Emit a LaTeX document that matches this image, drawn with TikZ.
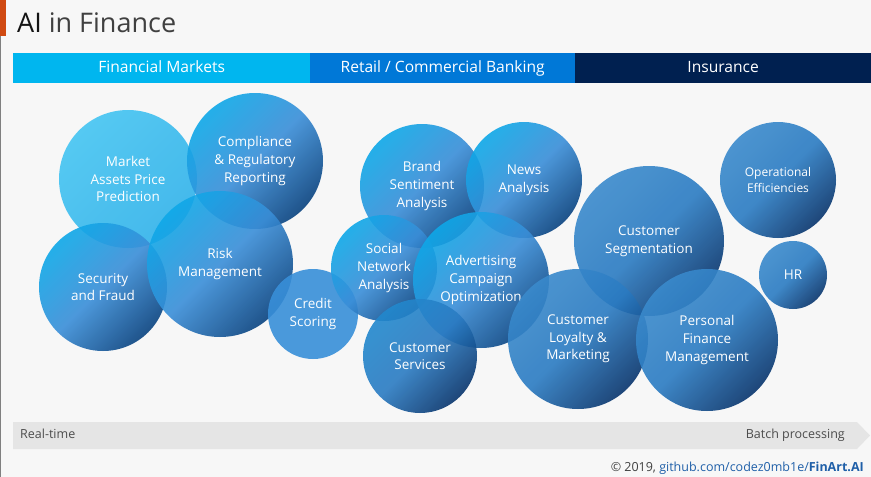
\documentclass[tikz,border=0pt]{standalone}
\usepackage{fontspec}
\setmainfont{Open Sans}
\definecolor{bg}{HTML}{F7F7F7}
\definecolor{fmk}{HTML}{00B6EF}
\definecolor{rcb}{HTML}{0078D7}
\definecolor{ins}{HTML}{002050}
\definecolor{orangebar}{HTML}{D04A12}
\definecolor{cyanA}{HTML}{0EA8E8}
\definecolor{midA}{HTML}{3A8ED8}
\definecolor{darkA}{HTML}{08427F}
\definecolor{midB}{HTML}{2A7BC2}
\definecolor{darkB}{HTML}{07346C}
\definecolor{lightB}{HTML}{3A8ACC}
\definecolor{mktTop}{HTML}{44C4F2}
\definecolor{mktBot}{HTML}{30B2EA}
\definecolor{linkblue}{HTML}{1F5FA8}
\tikzset{
  bub/.style={circle, draw=none, inner sep=0pt, text=white, align=center,
    font=\fontsize{13.5}{17.6}\selectfont, fill opacity=0.9, text opacity=1},
  gradA/.style={top color=cyanA, bottom color=darkA, middle color=midA, shading angle=45},
  gradB/.style={top color=lightB, bottom color=darkB, middle color=midB, shading angle=45},
  gradC/.style={top color=midB!70!cyanA, bottom color=darkB, middle color=midB, shading angle=45},
  head/.style={minimum height=30pt, inner sep=0pt, text=white, text height=11.5pt, text depth=3pt,
    font=\fontsize{15.6}{18}\selectfont},
  lbl/.style={inner sep=0pt, text=black!70, text height=9pt, text depth=2.5pt, font=\fontsize{12.5}{15}\selectfont}
}
\begin{document}
\begin{tikzpicture}[x=1pt,y=-1pt]
\useasboundingbox (0,0) rectangle (871,477);
\fill[bg] (0,0) rectangle (871,477);
\fill[black!50] (0,36) rectangle (1.3,477);
\fill[orangebar] (0,0) rectangle (6,36);
\node[anchor=base west, inner sep=0pt, font=\fontsize{27}{30}\selectfont] (title) at (17,32)
  {\textcolor{black!92}{AI} \textcolor{black!75}{in Finance}};
% header bars
\node[head, fill=fmk, minimum width=297pt, anchor=west] (fm) at (13,68) {Financial Markets};
\node[head, fill=rcb, minimum width=265pt, anchor=west] (rb) at (310,68) {Retail / Commercial Banking};
\node[head, fill=ins, minimum width=296pt, anchor=west] (in) at (575,68) {Insurance};
% bottom arrow
\fill[black!10] (13,422) -- (857,422) -- (870,435.5) -- (857,449) -- (13,449) -- cycle;
\node[lbl, anchor=west] (rt) at (20,435.5) {Real-time};
\node[lbl, anchor=east] (bp) at (845,435.5) {Batch processing};
\node[inner sep=0pt, anchor=base east, font=\fontsize{12.5}{15}\selectfont] (foot) at (864,471)
  {\textcolor{black!75}{\textcopyright{} 2019, }\textcolor{linkblue}{github.com/codez0mb1e/\textbf{FinArt.AI}}};
% bubbles
\node[bub, minimum size=138pt, top color=mktTop, bottom color=mktBot, middle color=mktTop!50!mktBot, shading angle=45] (mkt) at (128,179) {Market\\Assets Price\\Prediction};
\node[bub, gradA, minimum size=136pt] (comp) at (255,161) {Compliance\\\& Regulatory\\Reporting};
\node[bub, gradA, minimum size=128pt] (sec) at (103,287) {Security\\and Fraud};
\node[bub, gradA, minimum size=146pt] (risk) at (220,264) {Risk\\Management};
\node[bub, minimum size=90pt, fill=midA!95!cyanA] (cred) at (313,314) {Credit\\Scoring};
\node[bub, gradA, minimum size=124pt] (brand) at (422,186) {Brand\\Sentiment\\Analysis};
\node[bub, gradA, minimum size=116pt] (news) at (524,180) {News\\Analysis};
\node[bub, gradA, minimum size=106pt] (soc) at (384,268) {Social\\Network\\Analysis};
\node[bub, gradA, minimum size=136pt] (adv) at (481,280) {Advertising\\Campaign\\Optimization};
\node[bub, gradC, minimum size=114pt] (cserv) at (420,356) {Customer\\Services};
\node[bub, gradB, minimum size=150pt] (cseg) at (649,241) {Customer\\Segmentation};
\node[bub, gradB, minimum size=140pt] (loy) at (578,339) {Customer\\Loyalty \&\\Marketing};
\node[bub, gradB, minimum size=142pt] (pfm) at (707,340) {Personal\\Finance\\Management};
\node[bub, gradB, minimum size=116pt, font=\fontsize{12}{16}\selectfont] (ops) at (778,180) {Operational\\Efficiencies};
\node[bub, gradB, minimum size=68pt] (hr) at (793,275) {HR};
\end{tikzpicture}
\end{document}
